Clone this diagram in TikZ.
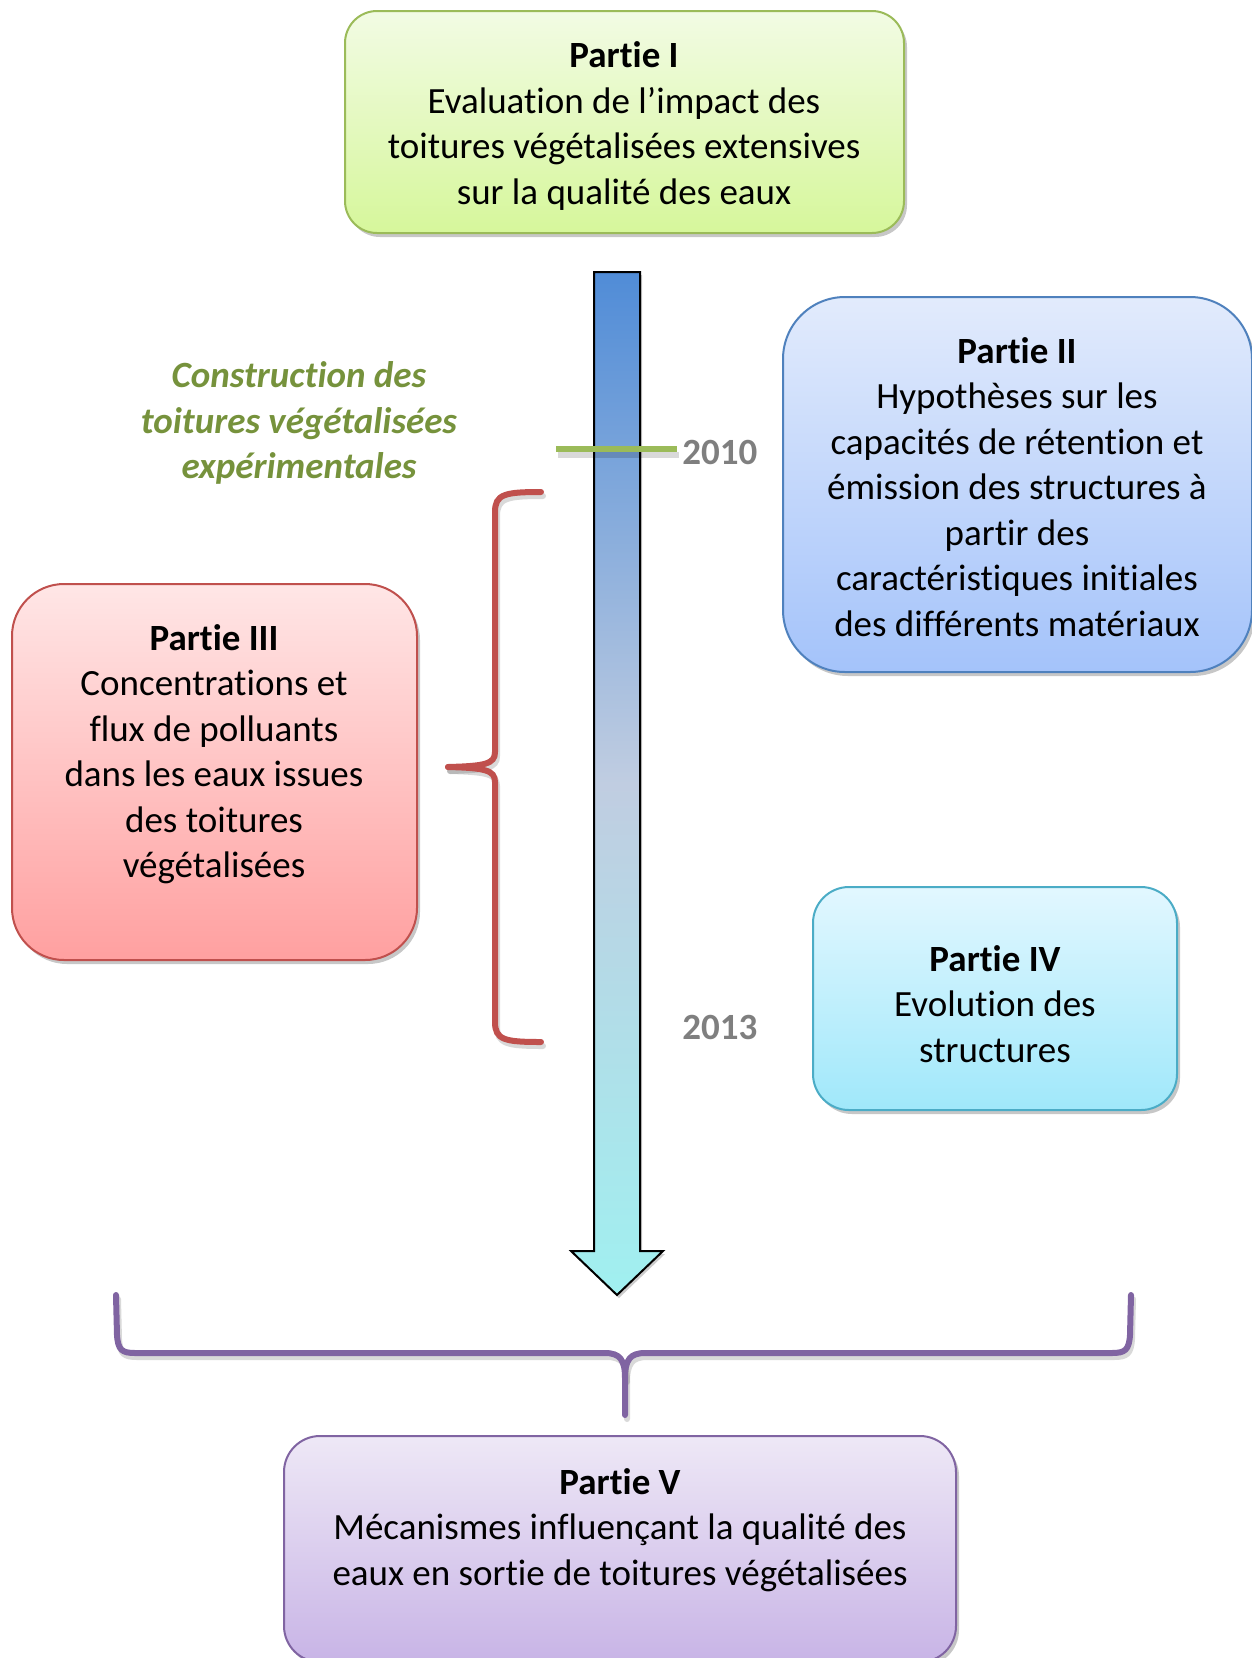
\documentclass[tikz,border=0pt]{standalone}
\usepackage{fontspec}
\setmainfont{Carlito}[Ligatures={CommonOff,ContextualOff}]
\usetikzlibrary{shadows}

\definecolor{grnD}{RGB}{155,187,89}
\definecolor{grnT}{RGB}{242,251,228}
\definecolor{grnB}{RGB}{214,247,155}
\definecolor{bluD}{RGB}{79,129,189}
\definecolor{bluT}{RGB}{226,235,252}
\definecolor{bluB}{RGB}{164,195,250}
\definecolor{redD}{RGB}{192,80,77}
\definecolor{redT}{RGB}{255,230,230}
\definecolor{redB}{RGB}{255,160,160}
\definecolor{cyaD}{RGB}{75,172,198}
\definecolor{cyaT}{RGB}{226,247,255}
\definecolor{cyaB}{RGB}{160,232,250}
\definecolor{purD}{RGB}{128,100,162}
\definecolor{purT}{RGB}{238,232,246}
\definecolor{purB}{RGB}{200,180,230}
\definecolor{arrT}{RGB}{80,140,215}
\definecolor{arrM}{RGB}{192,205,225}
\definecolor{arrB}{RGB}{160,240,240}
\definecolor{tickG}{RGB}{155,187,89}
\definecolor{noteG}{RGB}{118,146,60}
\definecolor{yearG}{RGB}{127,127,127}

\tikzset{every picture/.style={line width=0.75pt}}
\tikzset{
  partbox/.style n args={3}{draw=#1, top color=#2, bottom color=#3, line width=2pt,
    drop shadow={shadow xshift=3pt, shadow yshift=-4pt, fill=black, opacity=0.22}},
  parttext/.style={align=center, inner sep=0pt, font=\fontsize{37}{45.5}\selectfont},
  bracel/.style={line width=6pt, line cap=round},
  braceshadow/.style={line width=6pt, line cap=round, black, opacity=0.15},
}

\begin{document}
\begin{tikzpicture}[x=1pt,y=1pt,yscale=-1,xscale=1]
\useasboundingbox (0,0) rectangle (1252,1658);

%Shape: Rounded Rect
\node[partbox={grnD}{grnT}{grnB}, minimum width=559pt, minimum height=222pt, rounded corners=32pt] (p1) at (624.5,122) {};
%Shape: Rounded Rect
\node[partbox={bluD}{bluT}{bluB}, minimum width=469pt, minimum height=375pt, rounded corners=62pt] (p2) at (1017.5,484.5) {};
%Shape: Rounded Rect
\node[partbox={redD}{redT}{redB}, minimum width=405pt, minimum height=376pt, rounded corners=52pt] (p3) at (214.5,772) {};
%Shape: Rounded Rect
\node[partbox={cyaD}{cyaT}{cyaB}, minimum width=364pt, minimum height=223pt, rounded corners=36pt] (p4) at (995,998.5) {};
%Shape: Rounded Rect
\node[partbox={purD}{purT}{purB}, minimum width=672pt, minimum height=226pt, rounded corners=36pt] (p5) at (620,1549) {};

%Shape: Down Arrow
\path[draw=black, line width=2pt, top color=arrT, bottom color=arrB, middle color=arrM,
  drop shadow={shadow xshift=2pt, shadow yshift=-3pt, fill=black, opacity=0.2}]
  (594,272) -- (640,272) -- (640,1251) -- (663,1251) -- (617,1295) -- (571,1251) -- (594,1251) -- cycle ;

%Straight Lines
\draw[line width=6pt, black, opacity=0.15] (558,455) -- (679,455) ;
\draw[line width=6pt, tickG] (556,449) -- (677,449) ;

%Curve Lines
\draw[braceshadow] (543,496) .. controls (507,496) and (497,498) .. (497,516) -- (497,756) .. controls (497,768) and (487,770) .. (450,771) ;
\draw[braceshadow] (450,771) .. controls (487,772) and (497,774) .. (497,786) -- (497,1026) .. controls (497,1044) and (507,1046) .. (543,1046) ;
\draw[bracel, redD] (541,492) .. controls (505,492) and (495,494) .. (495,512) -- (495,752) .. controls (495,764) and (485,766) .. (448,767) ;
\draw[bracel, redD] (448,767) .. controls (485,768) and (495,770) .. (495,782) -- (495,1022) .. controls (495,1040) and (505,1042) .. (541,1042) ;
%Curve Lines
\draw[braceshadow] (118,1299) -- (119,1339) .. controls (120,1354) and (124,1357) .. (137,1357) -- (607,1357) .. controls (622,1357) and (627,1364) .. (627,1382) -- (627,1419) ;
\draw[braceshadow] (1133,1299) -- (1132,1339) .. controls (1131,1354) and (1127,1357) .. (1114,1357) -- (647,1357) .. controls (632,1357) and (627,1364) .. (627,1382) ;
\draw[bracel, purD] (116,1295) -- (117,1335) .. controls (118,1350) and (122,1353) .. (135,1353) -- (605,1353) .. controls (620,1353) and (625,1360) .. (625,1378) -- (625,1415) ;
\draw[bracel, purD] (1131,1295) -- (1130,1335) .. controls (1129,1350) and (1125,1353) .. (1112,1353) -- (645,1353) .. controls (630,1353) and (625,1360) .. (625,1378) ;

% Text Node
\node[parttext] (t1) at (624,126) {\textbf{Partie I}\\Evaluation de l’impact des\\toitures végétalisées extensives\\sur la qualité des eaux};
% Text Node
\node[parttext] (t2) at (1017,487) {\textbf{Partie II}\\Hypothèses sur les\\capacités de rétention et\\émission des structures à\\partir des\\caractéristiques initiales\\des différents matériaux};
% Text Node
\node[parttext] (t3) at (214,754) {\textbf{Partie III}\\Concentrations et\\flux de polluants\\dans les eaux issues\\des toitures\\végétalisées};
% Text Node
\node[parttext] (t4) at (995,1004) {\textbf{Partie IV}\\Evolution des\\structures};
% Text Node
\node[parttext] (t5) at (620,1530) {\textbf{Partie V}\\Mécanismes influençant la qualité des\\eaux en sortie de toitures végétalisées};
% Text Node
\node[parttext, text=noteG, font=\fontsize{37}{45.5}\selectfont\bfseries\itshape] (note) at (299,423) {Construction des\\toitures végétalisées\\expérimentales};
% Text Node
\node[parttext, anchor=west, text=yearG, font=\fontsize{37}{45.5}\selectfont\bfseries] (y1) at (682,452) {2010};
% Text Node
\node[parttext, anchor=west, text=yearG, font=\fontsize{37}{45.5}\selectfont\bfseries] (y2) at (682,1027) {2013};

\end{tikzpicture}
\end{document}
